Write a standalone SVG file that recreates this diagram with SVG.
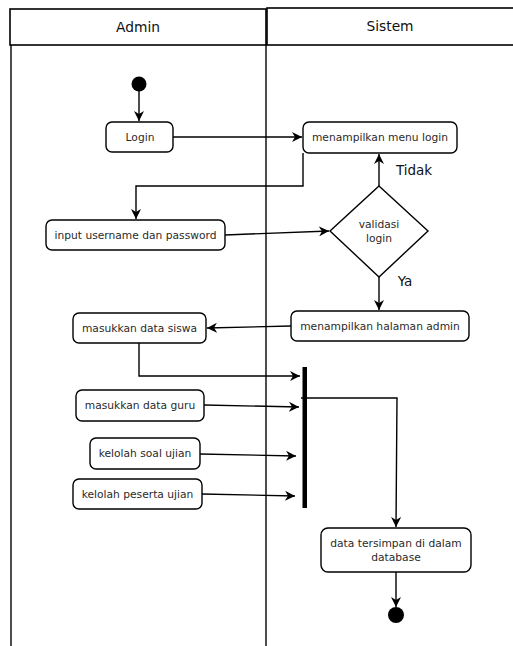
<svg xmlns="http://www.w3.org/2000/svg" width="513" height="646" viewBox="0 0 513 646">
<style>
.lane{fill:#fff;stroke:#000;stroke-width:1.6}
.ln{fill:none;stroke:#000;stroke-width:1.4}
.node{fill:#fff;stroke:#000;stroke-width:1.4}
.t{font-family:"DejaVu Sans",sans-serif;font-size:10.7px;fill:#2a2a2a;text-anchor:middle}
.h{font-family:"DejaVu Sans",sans-serif;font-size:13.8px;fill:#111;text-anchor:middle}
.c{fill:none;stroke:#000;stroke-width:1.4}
</style>
<defs>
<marker id="ar" viewBox="0 0 10 10" refX="10" refY="5" markerWidth="10" markerHeight="10" markerUnits="userSpaceOnUse" orient="auto">
<path d="M0,0 L10,5 L0,10 L3,5 z" fill="#000"/>
</marker>
</defs>
<rect width="513" height="646" fill="#fff"/>
<g id="lanes">
<rect class="lane" x="10" y="9" width="256" height="36"/>
<rect class="lane" x="267" y="8" width="260" height="37"/>
<line class="ln" x1="11" y1="45" x2="11" y2="646"/>
<line class="ln" x1="266" y1="45" x2="266" y2="646"/>
<text class="h" x="138" y="32">Admin</text>
<text class="h" x="390" y="31">Sistem</text>
</g>
<g id="connectors">
<line class="c" x1="139" y1="91" x2="139" y2="121" marker-end="url(#ar)"/>
<line class="c" x1="173" y1="137" x2="302" y2="137" marker-end="url(#ar)"/>
<polyline class="c" points="303,153 303,186 136,186 136,219" marker-end="url(#ar)"/>
<line class="c" x1="225" y1="235" x2="329" y2="231" marker-end="url(#ar)"/>
<line class="c" x1="379" y1="186" x2="379" y2="154" marker-end="url(#ar)"/>
<line class="c" x1="379" y1="277" x2="379" y2="310" marker-end="url(#ar)"/>
<line class="c" x1="291" y1="326" x2="207" y2="328" marker-end="url(#ar)"/>
<polyline class="c" points="139,343 139,376 300,376" marker-end="url(#ar)"/>
<line class="c" x1="204" y1="405" x2="299" y2="407" marker-end="url(#ar)"/>
<line class="c" x1="200" y1="454" x2="296" y2="456" marker-end="url(#ar)"/>
<line class="c" x1="202" y1="494" x2="295" y2="496" marker-end="url(#ar)"/>
<polyline class="c" points="301,398 397,398 396,527" marker-end="url(#ar)"/>
<line class="c" x1="396" y1="572" x2="396" y2="607" marker-end="url(#ar)"/>
<text class="h" x="414" y="175" style="font-size:13.5px">Tidak</text>
<text class="h" x="405" y="286" style="font-size:13.5px">Ya</text>
</g>
<g id="start"><circle cx="139" cy="84" r="7.5" fill="#000"/></g>
<g id="login"><rect class="node" x="106" y="122" width="67" height="30" rx="6"/><text class="t" x="140" y="141">Login</text></g>
<g id="menu-login"><rect class="node" x="303" y="122" width="154" height="31" rx="6"/><text class="t" x="380" y="141">menampilkan menu login</text></g>
<g id="input"><rect class="node" x="46" y="220" width="179" height="30" rx="6"/><text class="t" x="135.5" y="239">input username dan password</text></g>
<g id="validasi"><polygon class="node" points="379,186 428,231 379,277 330,231"/><text class="t" x="379" y="228">validasi</text><text class="t" x="379" y="242">login</text></g>
<g id="halaman-admin"><rect class="node" x="291" y="311" width="178" height="30" rx="6"/><text class="t" x="380" y="330">menampilkan halaman admin</text></g>
<g id="siswa"><rect class="node" x="73" y="313" width="133" height="30" rx="6"/><text class="t" x="139.5" y="332">masukkan data siswa</text></g>
<g id="bar"><rect x="302.5" y="367" width="4.5" height="141" fill="#000"/></g>
<g id="guru"><rect class="node" x="76" y="390" width="128" height="31" rx="6"/><text class="t" x="140" y="409">masukkan data guru</text></g>
<g id="soal"><rect class="node" x="90" y="438" width="110" height="31" rx="6"/><text class="t" x="145" y="457">kelolah soal ujian</text></g>
<g id="peserta"><rect class="node" x="73" y="479" width="129" height="30" rx="6"/><text class="t" x="137.5" y="498">kelolah peserta ujian</text></g>
<g id="database"><rect class="node" x="321" y="528" width="150" height="44" rx="7"/><text class="t" x="396" y="547">data tersimpan di dalam</text><text class="t" x="396" y="561">database</text></g>
<g id="end"><circle cx="396" cy="615" r="8" fill="#000"/></g>
</svg>
